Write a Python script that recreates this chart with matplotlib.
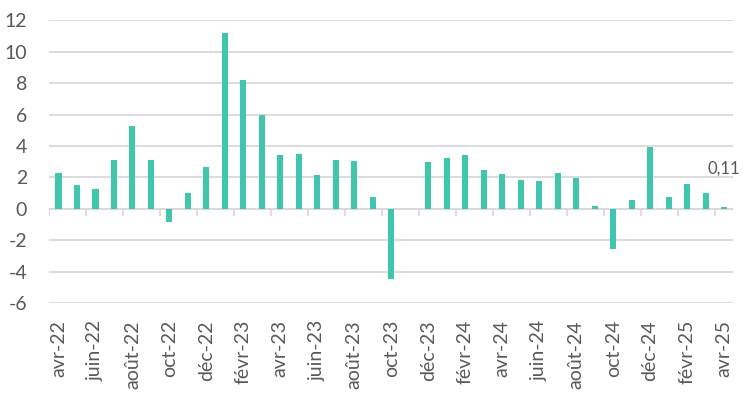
import numpy as np
import matplotlib
matplotlib.use("Agg")
import matplotlib.pyplot as plt

months = ["avr-22", "mai-22", "juin-22", "juil-22", "août-22", "sept-22", "oct-22", "nov-22", "déc-22",
          "janv-23", "févr-23", "mars-23", "avr-23", "mai-23", "juin-23", "juil-23", "août-23", "sept-23",
          "oct-23", "nov-23", "déc-23", "janv-24", "févr-24", "mars-24", "avr-24", "mai-24", "juin-24",
          "juil-24", "août-24", "sept-24", "oct-24", "nov-24", "déc-24", "janv-25", "févr-25", "mars-25",
          "avr-25"]
values = [2.28, 1.50, 1.27, 3.10, 5.28, 3.14, -0.85, 1.03, 2.68,
          11.17, 8.17, 5.97, 3.44, 3.50, 2.15, 3.10, 3.04, 0.74,
          -4.44, 0.0, 2.98, 3.21, 3.40, 2.45, 2.22, 1.86, 1.79,
          2.28, 1.98, 0.21, -2.53, 0.57, 3.95, 0.78, 1.58, 1.03,
          0.11]
yticks = [-6, -4, -2, 0, 2, 4, 6, 8, 10, 12]
last_label = "0,11"

bar_color = "#41C6AE"
grid_color = "#D9D9D9"
text_color = "#595959"
font = ["Lato", "DejaVu Sans"]

fig = plt.figure(figsize=(7.46, 3.95), dpi=100)
ax = fig.add_axes([0.066, 0.232, 0.917, 0.717])

x = np.arange(len(months))
ax.bar(x, values, width=0.33, color=bar_color, zorder=3)

ax.set_xlim(-0.5, len(months) - 0.5)
ax.set_ylim(yticks[0], yticks[-1])
ax.set_yticks(yticks)
ax.set_yticklabels([str(v) for v in yticks], fontsize=14, color=text_color, family=font)
ax.yaxis.grid(True, color=grid_color, linewidth=1.3, zorder=0)
ax.tick_params(axis="y", length=0, pad=16)

ax.set_xticks(x[::2])
ax.set_xticklabels(months[::2], rotation=90, fontsize=14, color=text_color, family=font,
                   ha="center", va="top")
ax.tick_params(axis="x", length=0, pad=12)

for s in ax.spines.values():
    s.set_visible(False)

# zero axis line and category tick marks
ax.axhline(0, color=grid_color, linewidth=1.3, zorder=2)
bounds = np.arange(-0.5, len(months) - 1, 2)
ax.vlines(bounds, -0.45, 0, color=grid_color, linewidth=1.3, zorder=2)

ax.annotate(last_label, (x[-1], values[-1]), xytext=(0, 22), textcoords="offset points",
            ha="center", va="bottom", fontsize=12, color=text_color, family=font)

fig.savefig("out.png", dpi=100)
